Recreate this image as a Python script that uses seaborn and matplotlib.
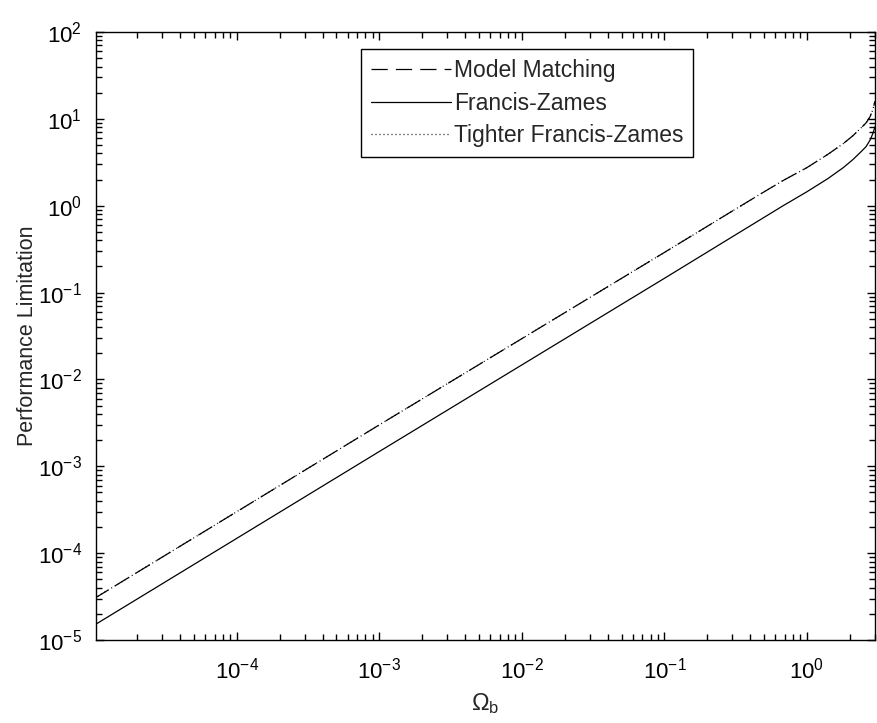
import matplotlib
matplotlib.use("Agg")
import matplotlib.pyplot as plt
import seaborn as sns
import pandas as pd
import numpy as np
from matplotlib.ticker import LogLocator, NullFormatter, FixedLocator, LogFormatterMathtext

# Data
omega_b = [1.0e-5, 1.0e-4, 1.0e-3, 1.0e-2, 1.0e-1, 0.3, 0.47, 0.68, 1.0, 1.4, 1.8, 2.1, 2.4, 2.6, 2.77, 2.9, 3.0]
model_matching = [3.0e-5, 3.0e-4, 3.0e-3, 2.95e-2, 0.29, 0.87, 1.36, 1.95, 2.75, 3.9, 5.2, 6.4, 7.9, 9.0, 10.6, 12.8, 16.0]
francis_zames = [1.48e-5, 1.48e-4, 1.48e-3, 1.47e-2, 0.146, 0.44, 0.69, 1.0, 1.45, 2.05, 2.75, 3.4, 4.2, 4.8, 5.7, 6.8, 8.1]
tighter_fz = list(model_matching)

x_ticks = [1e-4, 1e-3, 1e-2, 1e-1, 1e0]
y_ticks = [1e-5, 1e-4, 1e-3, 1e-2, 1e-1, 1e0, 1e1, 1e2]

labels = ["Model Matching", "Francis-Zames", "Tighter Francis-Zames"]
xlabel = r"$\Omega_\mathrm{b}$"
ylabel = "Performance Limitation"

sns.set_style("ticks")
plt.rcParams["font.family"] = ["Liberation Sans", "DejaVu Sans"]
plt.rcParams["mathtext.fontset"] = "custom"
plt.rcParams["mathtext.rm"] = "Liberation Sans"
plt.rcParams["mathtext.it"] = "Liberation Sans"
plt.rcParams["mathtext.bf"] = "Liberation Sans"
plt.rcParams["axes.unicode_minus"] = False

df = pd.concat([
    pd.DataFrame({"x": omega_b, "y": model_matching, "series": labels[0]}),
    pd.DataFrame({"x": omega_b, "y": francis_zames, "series": labels[1]}),
    pd.DataFrame({"x": omega_b, "y": tighter_fz, "series": labels[2]}),
], ignore_index=True)

fig = plt.figure(figsize=(8.77, 7.23), dpi=100)
ax = fig.add_axes([0.1095, 0.1148, 0.8882, 0.8409])

sns.lineplot(data=df, x="x", y="y", hue="series", style="series",
             palette={l: "black" for l in labels},
             dashes={labels[0]: (13, 6.5), labels[1]: "", labels[2]: (0.8, 2.4)},
             linewidth=0.9, ax=ax, sort=False, estimator=None)

ax.set_xscale("log")
ax.set_yscale("log")
ax.set_xlim(1.03e-5, 3.0)
ax.set_ylim(1e-5, 1e2)
ax.xaxis.set_major_locator(FixedLocator(x_ticks))
ax.yaxis.set_major_locator(FixedLocator(y_ticks))
ax.xaxis.set_major_formatter(LogFormatterMathtext())
ax.yaxis.set_major_formatter(LogFormatterMathtext())
ax.xaxis.set_minor_locator(LogLocator(base=10, subs=np.arange(2, 10), numticks=100))
ax.yaxis.set_minor_locator(LogLocator(base=10, subs=np.arange(2, 10), numticks=100))
ax.xaxis.set_minor_formatter(NullFormatter())
ax.yaxis.set_minor_formatter(NullFormatter())

for s in ax.spines.values():
    s.set_visible(True)
    s.set_color("black")
    s.set_linewidth(1.0)

ax.tick_params(which="both", direction="in", top=True, right=True, colors="black",
               labelsize=16, width=1.0)
ax.tick_params(which="major", length=6)
ax.tick_params(which="minor", length=4)
ax.tick_params(axis="x", which="major", pad=13)
ax.tick_params(axis="y", which="major", pad=10)

ax.set_xlabel(xlabel, fontsize=17, labelpad=5)
ax.set_ylabel(ylabel, fontsize=15.5, labelpad=0)

leg = ax.legend(loc="upper left", bbox_to_anchor=(0.340, 0.972), borderaxespad=0,
                fontsize=16.5, frameon=True, fancybox=False, handlelength=3.5,
                labelspacing=0.4, handletextpad=0.1, borderpad=0.45)
leg.get_frame().set_edgecolor("black")
leg.get_frame().set_linewidth(1.0)
leg.get_frame().set_alpha(1)
for line in leg.get_lines():
    line.set_linewidth(0.9)

fig.savefig("out.png", dpi=100)
